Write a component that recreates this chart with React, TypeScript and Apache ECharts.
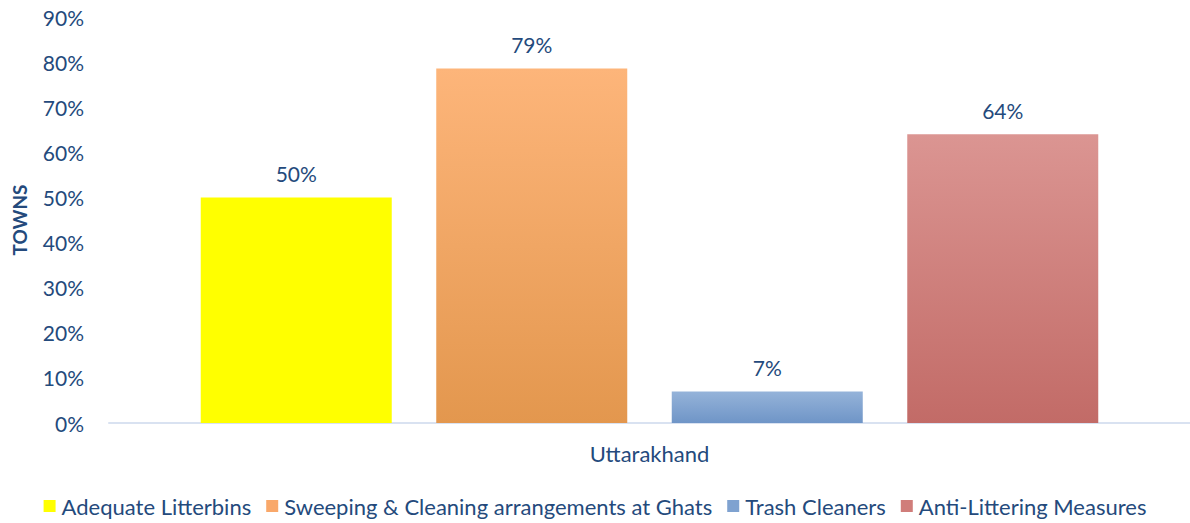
import React, { useEffect, useRef } from "react";
import * as echarts from "echarts";

const categories = ["Uttarakhand"];
const seriesNames = [
  "Adequate Litterbins",
  "Sweeping & Cleaning arrangements at Ghats",
  "Trash Cleaners",
  "Anti-Littering Measures",
];
const seriesValues = [50, 78.6, 7, 64];
const yTicks = [0, 10, 20, 30, 40, 50, 60, 70, 80, 90];

const gradients: [string, string][] = [
  ["#FFFF00", "#FFFF00"],
  ["#FDB57A", "#E3974E"],
  ["#95B3D9", "#6F95C7"],
  ["#DB9592", "#C26B67"],
];
const legendIcons = ["#FFFF00", "#F9A86A", "#7FA2D0", "#D07D7A"];

const FONT = "Lato";
const TEXT = "#244A7C";

export default function App() {
  const ref = useRef<HTMLDivElement>(null);
  useEffect(() => {
    if (!ref.current) return;
    const chart = echarts.init(ref.current, undefined, { renderer: "svg" });
    chart.setOption({
      animation: false,
      textStyle: { fontFamily: FONT },
      grid: { left: 109, right: 0, top: 17, bottom: 100, containLabel: false },
      legend: {
        bottom: 1,
        left: "center",
        itemWidth: 12,
        itemHeight: 12,
        itemGap: 15,
        icon: "rect",
        textStyle: { fontFamily: FONT, fontSize: 22, color: TEXT, padding: [0, 0, 0, 1] },
        data: seriesNames.map((n, i) => ({ name: n, itemStyle: { color: legendIcons[i] } })),
      },
      xAxis: {
        type: "category",
        data: categories,
        axisLine: { lineStyle: { color: "#D9E2F1", width: 2 } },
        axisTick: { show: false },
        axisLabel: { fontFamily: FONT, fontSize: 22, color: TEXT, margin: 19 },
      },
      yAxis: {
        type: "value",
        min: yTicks[0],
        max: yTicks[yTicks.length - 1],
        interval: 10,
        name: "TOWNS",
        nameLocation: "middle",
        nameGap: 80,
        nameRotate: 90,
        nameTextStyle: { fontFamily: FONT, fontSize: 19, fontWeight: "bold", color: TEXT },
        splitLine: { show: false },
        axisLine: { show: false },
        axisTick: { show: false },
        axisLabel: {
          fontFamily: FONT,
          fontSize: 21,
          color: TEXT,
          margin: 25,
          formatter: (v: number) => `${v}%`,
        },
      },
      series: seriesNames.map((name, i) => ({
        name,
        type: "bar",
        barWidth: 191,
        barGap: "23.3%",
        data: [seriesValues[i]],
        itemStyle: {
          color: new echarts.graphic.LinearGradient(0, 0, 0, 1, [
            { offset: 0, color: gradients[i][0] },
            { offset: 1, color: gradients[i][1] },
          ]),
        },
        label: {
          show: true,
          position: "top",
          distance: 13,
          fontFamily: FONT,
          fontSize: 21,
          color: TEXT,
          formatter: (p: any) => `${Math.round(p.value)}%`,
        },
      })),
    });
    return () => chart.dispose();
  }, []);
  return <div ref={ref} style={{ width: 1190, height: 523, position: "absolute", left: 0, top: 0 }} />;
}
